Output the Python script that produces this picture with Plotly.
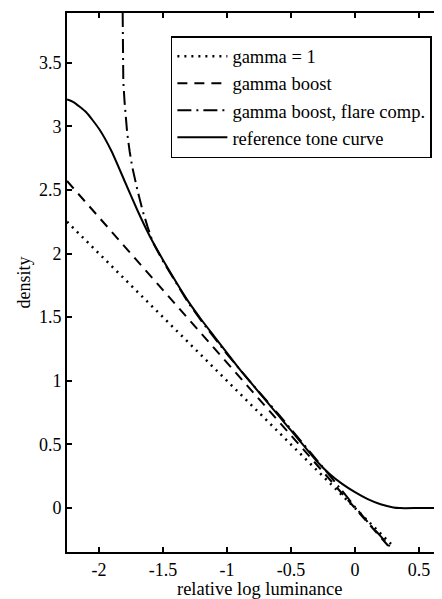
import plotly.graph_objects as go

# ---- data ----
gamma1_x = [-2.25, 0.30]
gamma1_y = [2.25, -0.30]

boost_x = [-2.25, 0.28]
boost_y = [2.57, -0.32]

flare_x = [-1.815, -1.81, -1.80, -1.78, -1.76, -1.74, -1.70, -1.66, -1.62, -1.58,
           -1.50, -1.40, -1.30, -1.20, -1.10, -1.00, -0.90, -0.80, -0.60, -0.40,
           -0.20, 0.00, 0.10, 0.20, 0.28]
flare_y = [3.89, 3.35, 3.19, 2.95, 2.80, 2.68, 2.50, 2.34, 2.21, 2.09,
           1.94, 1.77, 1.61, 1.47, 1.34, 1.21, 1.09, 0.97, 0.74, 0.50,
           0.26, 0.01, -0.11, -0.22, -0.31]

ref_x = [-2.25, -2.20, -2.10, -2.00, -1.90, -1.80, -1.70, -1.60, -1.50, -1.40,
         -1.30, -1.20, -1.10, -1.00, -0.90, -0.80, -0.70, -0.60, -0.50, -0.40,
         -0.30, -0.20, -0.10, 0.00, 0.10, 0.20, 0.30, 0.35, 0.50, 0.68]
ref_y = [3.21, 3.19, 3.11, 2.98, 2.80, 2.57, 2.34, 2.13, 1.95, 1.78,
         1.62, 1.48, 1.35, 1.22, 1.09, 0.97, 0.85, 0.73, 0.61, 0.49,
         0.37, 0.27, 0.19, 0.125, 0.07, 0.03, 0.005, 0.00, 0.00, 0.00]

x_ticks = [-2, -1.5, -1, -0.5, 0, 0.5]
x_ticktext = ["-2", "-1.5", "-1", "-0.5", "0", "0.5"]
y_ticks = [0, 0.5, 1, 1.5, 2, 2.5, 3, 3.5]
y_ticktext = ["0", "0.5", "1", "1.5", "2", "2.5", "3", "3.5"]

names = ["gamma = 1", "gamma boost", "gamma boost, flare comp.", "reference tone curve"]

FONT = "Liberation Serif"

fig = go.Figure()
fig.add_trace(go.Scatter(x=gamma1_x, y=gamma1_y, mode="lines", name=names[0],
                         line=dict(color="black", width=2.5, dash="2px,5px")))
fig.add_trace(go.Scatter(x=boost_x, y=boost_y, mode="lines", name=names[1],
                         line=dict(color="black", width=2, dash="10px,7px")))
fig.add_trace(go.Scatter(x=flare_x, y=flare_y, mode="lines", name=names[2],
                         line=dict(color="black", width=2, dash="14px,5px,2px,5px")))
fig.add_trace(go.Scatter(x=ref_x, y=ref_y, mode="lines", name=names[3],
                         line=dict(color="black", width=2, shape="spline", smoothing=0.5)))

# the page body adds an 8px margin, so the figure is 8px smaller than the window
fig.update_layout(
    width=434, height=591,
    margin=dict(l=59, r=0, t=5, b=47),
    paper_bgcolor="white", plot_bgcolor="white",
    font=dict(family=FONT, size=18, color="black"),
    showlegend=True,
    legend=dict(x=0.277, y=0.957, xanchor="left", yanchor="top",
                bgcolor="white", bordercolor="black", borderwidth=1.5,
                font=dict(family=FONT, size=18.5, color="black"),
                itemwidth=50, tracegroupgap=0),
    xaxis=dict(range=[-2.25, 0.68], tickvals=x_ticks, ticktext=x_ticktext,
               showgrid=False, zeroline=False, showline=True, linecolor="black",
               linewidth=2, mirror="ticks", ticks="inside", ticklen=5,
               tickwidth=1.5, tickcolor="black",
               tickfont=dict(family=FONT, size=18, color="black")),
    yaxis=dict(range=[-0.345, 3.89], tickvals=y_ticks, ticktext=y_ticktext,
               showgrid=False, zeroline=False, showline=True, linecolor="black",
               linewidth=2, mirror=False, ticks="inside", ticklen=5,
               tickwidth=1.5, tickcolor="black",
               tickfont=dict(family=FONT, size=18, color="black")),
    annotations=[
        dict(text="relative log luminance", xref="paper", yref="paper",
             x=0.512, y=-0.068, xanchor="center", yanchor="middle",
             showarrow=False, font=dict(family=FONT, size=18.5, color="black")),
        dict(text="density", xref="paper", yref="paper", textangle=-90,
             x=-0.115, y=0.5, xanchor="center", yanchor="middle",
             showarrow=False, font=dict(family=FONT, size=18, color="black")),
    ],
)

fig.write_html("out.html")
